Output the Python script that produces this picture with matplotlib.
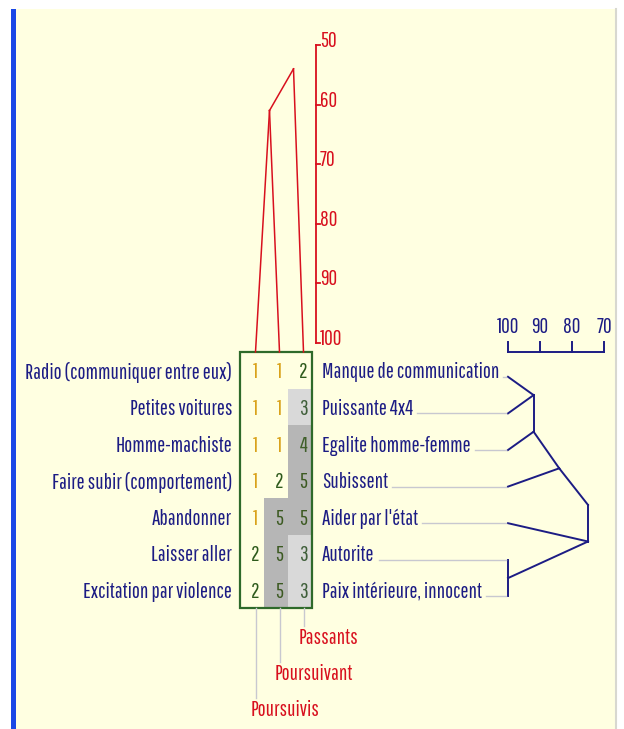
import matplotlib
matplotlib.use("Agg")
import matplotlib.pyplot as plt
from matplotlib.patches import Rectangle

plt.rcParams['font.family'] = ['Pathway Gothic One', 'Roboto Condensed', 'DejaVu Sans']

elements = ['Poursuivis', 'Poursuivant', 'Passants']
left_poles = ['Radio (communiquer entre eux)', 'Petites voitures', 'Homme-machiste',
              'Faire subir (comportement)', 'Abandonner', 'Laisser aller',
              'Excitation par violence']
right_poles = ['Manque de communication', 'Puissante 4x4', 'Egalite homme-femme',
               'Subissent', "Aider par l'état", 'Autorite', 'Paix intérieure, innocent']
ratings = [[1, 1, 2],
           [1, 1, 3],
           [1, 1, 4],
           [1, 2, 5],
           [1, 5, 5],
           [2, 5, 3],
           [2, 5, 3]]

# cluster merges: (child a, child b, similarity %), new node ids continue after the leaves
element_merges = [(0, 1, 61), (3, 2, 54)]
construct_merges = [(0, 1, 92), (7, 2, 92), (8, 3, 84), (5, 6, 100), (4, 10, 75), (9, 11, 75)]

element_ticks = [50, 60, 70, 80, 90, 100]
construct_ticks = [100, 90, 80, 70]

navy = '#1c1c84'
red = '#d8101e'
green = '#2e6a2a'
digit_colors = {1: '#d9a21b', 2: '#2d5a1b', 3: '#3f5f3a', 4: '#3f5f2a', 5: '#3c5a22'}
shade = {1: None, 2: None, 3: '#d9d9d9', 4: '#b6b6b6', 5: '#b6b6b6'}

fig = plt.figure(figsize=(6.24, 7.29), dpi=100)
ax = fig.add_axes([0, 0, 1, 1])
ax.set_xlim(0, 624)
ax.set_ylim(729, 0)
ax.axis('off')

# window background
ax.add_patch(Rectangle((16, 9), 599, 720, facecolor='#ffffe1', edgecolor='none'))
ax.add_patch(Rectangle((11, 9), 5, 720, facecolor='#1a48e6', edgecolor='none'))
ax.plot([616, 616], [9, 729], color='#d8d8d0', lw=1.5)

# grid geometry
box_left, box_top, cell_w, row_h = 240, 352, 24, 36.6
n_rows, n_cols = len(ratings), len(elements)
box_right = box_left + cell_w * n_cols
box_bottom = box_top + row_h * n_rows
col_x = [box_left + cell_w * j + 15.5 for j in range(n_cols)]
row_y = [box_top + row_h * (i + 0.5) for i in range(n_rows)]
fs = 15.3

for i, row in enumerate(ratings):
    for j, v in enumerate(row):
        if shade[v]:
            ax.add_patch(Rectangle((box_left + cell_w * j, box_top + row_h * i), cell_w, row_h,
                                   facecolor=shade[v], edgecolor='none'))
        ax.text(col_x[j], row_y[i] + 2, str(v), ha='center', va='center',
                fontsize=fs, color=digit_colors[v])
ax.add_patch(Rectangle((box_left, box_top), box_right - box_left, box_bottom - box_top,
                       facecolor='none', edgecolor=green, lw=1.6))

# construct pole labels
right_texts = []
for i in range(n_rows):
    ax.text(box_left - 8, row_y[i] + 2, left_poles[i], ha='right', va='center',
            fontsize=fs, color=navy)
    right_texts.append(ax.text(box_right + 10, row_y[i] + 2, right_poles[i], ha='left',
                               va='center', fontsize=fs, color=navy))


def node_positions(merges, leaf_pos):
    n = len(leaf_pos)
    lo, hi, pos = list(range(n)), list(range(n)), list(leaf_pos)
    for a, b, _ in merges:
        lo.append(min(lo[a], lo[b]))
        hi.append(max(hi[a], hi[b]))
        pos.append((leaf_pos[hi[a]] + leaf_pos[lo[b]]) / 2 + 2)
    return pos


# element dendrogram (vertical, similarity scale 50-100)
def ey(v):
    return 343 - (100 - v) * 5.96

e_pos = node_positions(element_merges, col_x)
e_lev = [None] * n_cols + [m[2] for m in element_merges]
for k, (a, b, lev) in enumerate(element_merges):
    node = n_cols + k
    for c in (a, b):
        cy = box_top if c < n_cols else ey(e_lev[c])
        ax.plot([e_pos[c], e_pos[node]], [cy, ey(lev)], color=red, lw=1.1)

axis_x = 316
ax.plot([axis_x, axis_x], [ey(50), ey(100)], color=red, lw=1.3)
for t in element_ticks:
    ax.plot([axis_x, axis_x + 4], [ey(t), ey(t)], color=red, lw=1.3)
    ax.text(axis_x + 4, ey(t) - 4, str(t), ha='left', va='center', fontsize=fs, color=red)

# element names below the grid
for j, name in enumerate(elements):
    ly = 638 + 36 * (n_cols - 1 - j)
    ax.plot([col_x[j], col_x[j]], [box_bottom, ly - 12], color='#c8c8d0', lw=1.0)
    ax.text(col_x[j] - 5, ly, name, ha='left', va='center', fontsize=fs, color=red)

# construct dendrogram (horizontal, similarity scale 100-70)
def cx(v):
    return 508 + (100 - v) * 3.2

leaf_y = [y + 6.5 for y in row_y]
c_pos = node_positions(construct_merges, leaf_y)
c_pos = c_pos[:n_rows] + [p - 2 for p in c_pos[n_rows:]]
c_lev = [100] * n_rows + [m[2] for m in construct_merges]
for k, (a, b, lev) in enumerate(construct_merges):
    node = n_rows + k
    for c in (a, b):
        ax.plot([cx(c_lev[c]), cx(lev)], [c_pos[c], c_pos[node]], color=navy, lw=1.4)

ax.plot([cx(100), cx(70)], [352, 352], color=navy, lw=1.4)
for t in construct_ticks:
    ax.plot([cx(t), cx(t)], [352, 342], color=navy, lw=1.4)
    ax.text(cx(t), 327, str(t), ha='center', va='center', fontsize=fs, color=navy)

# grey leader lines from the right pole labels to the tree
fig.canvas.draw()
inv = ax.transData.inverted()
for i, t in enumerate(right_texts):
    bb = t.get_window_extent()
    x_end = inv.transform((bb.x1, 0))[0]
    ax.plot([x_end + 4, cx(100) - 2], [leaf_y[i], leaf_y[i]], color='#c8c8d0', lw=1.0)

fig.savefig('out.png', dpi=100)
